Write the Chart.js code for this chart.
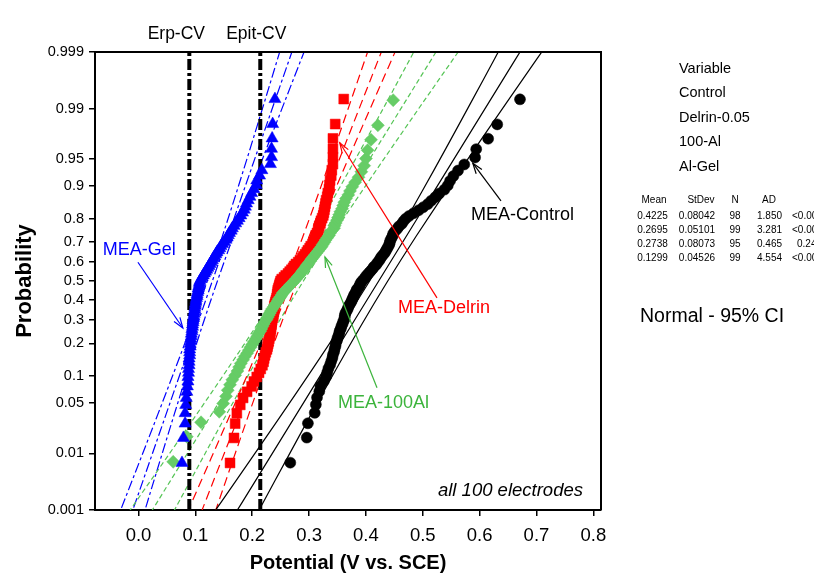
<!DOCTYPE html>
<html lang="en">
<head>
<meta charset="UTF-8">
<title>Probability plot - potentials of 100 electrodes</title>
<script src="https://cdn.jsdelivr.net/npm/chart.js"></script>
<style>
  body { margin: 0; background: #fff; }
  #wrap { width: 814px; height: 576px; }
</style>
</head>
<body>
<div id="wrap"><canvas id="probPlot" width="814" height="576"></canvas></div>
<script>
// Sorted potentials (V vs. SCE), lowest first
const controlValues = [
  0.267, 0.296, 0.298, 0.310, 0.312, 0.314, 0.318, 0.320, 0.326, 0.330,
  0.332, 0.334, 0.337, 0.339, 0.341, 0.342, 0.344, 0.345, 0.3465, 0.347,
  0.349, 0.350, 0.352, 0.353, 0.354, 0.356, 0.357, 0.359, 0.360, 0.362,
  0.3625, 0.363, 0.364, 0.366, 0.368, 0.369, 0.371, 0.373, 0.375, 0.376,
  0.378, 0.379, 0.381, 0.383, 0.384, 0.387, 0.389, 0.390, 0.392, 0.395,
  0.398, 0.400, 0.403, 0.406, 0.409, 0.412, 0.414, 0.418, 0.420, 0.423,
  0.425, 0.427, 0.430, 0.433, 0.435, 0.437, 0.439, 0.441, 0.442, 0.443,
  0.445, 0.447, 0.448, 0.451, 0.455, 0.458, 0.463, 0.466, 0.470, 0.476,
  0.484, 0.493, 0.501, 0.509, 0.515, 0.522, 0.529, 0.538, 0.544, 0.548,
  0.554, 0.562, 0.573, 0.592, 0.594, 0.615, 0.631, 0.671
];
const delrinValues = [
  0.161, 0.168, 0.170, 0.173, 0.179, 0.184, 0.191, 0.199, 0.203, 0.208,
  0.212, 0.215, 0.218, 0.220, 0.221, 0.2225, 0.224, 0.226, 0.227, 0.228,
  0.229, 0.230, 0.231, 0.2315, 0.232, 0.233, 0.233, 0.234, 0.234, 0.235,
  0.236, 0.237, 0.237, 0.238, 0.238, 0.239, 0.239, 0.240, 0.241, 0.242,
  0.243, 0.244, 0.244, 0.245, 0.245, 0.246, 0.247, 0.248, 0.249, 0.250,
  0.252, 0.256, 0.259, 0.263, 0.266, 0.269, 0.272, 0.274, 0.277, 0.281,
  0.284, 0.288, 0.290, 0.293, 0.296, 0.298, 0.301, 0.303, 0.306, 0.308,
  0.310, 0.311, 0.312, 0.314, 0.316, 0.317, 0.318, 0.320, 0.321, 0.323,
  0.325, 0.326, 0.327, 0.328, 0.329, 0.330, 0.332, 0.333, 0.335, 0.336,
  0.337, 0.339, 0.340, 0.342, 0.342, 0.342, 0.342, 0.346, 0.361
];
const al100Values = [
  0.061, 0.085, 0.110, 0.142, 0.149, 0.154, 0.157, 0.161, 0.165, 0.170,
  0.174, 0.177, 0.180, 0.184, 0.187, 0.191, 0.194, 0.197, 0.200, 0.203,
  0.206, 0.209, 0.211, 0.214, 0.216, 0.218, 0.220, 0.222, 0.225, 0.227,
  0.229, 0.231, 0.233, 0.235, 0.238, 0.240, 0.243, 0.245, 0.247, 0.250,
  0.252, 0.254, 0.258, 0.261, 0.264, 0.267, 0.271, 0.274, 0.277, 0.280,
  0.283, 0.286, 0.288, 0.291, 0.294, 0.296, 0.299, 0.302, 0.304, 0.307,
  0.310, 0.313, 0.316, 0.319, 0.322, 0.324, 0.327, 0.329, 0.332, 0.335,
  0.337, 0.340, 0.344, 0.345, 0.347, 0.349, 0.351, 0.353, 0.355, 0.358,
  0.360, 0.362, 0.365, 0.369, 0.372, 0.376, 0.381, 0.387, 0.392, 0.397,
  0.400, 0.403, 0.409, 0.421, 0.448
];
const gelValues = [
  0.0765, 0.079, 0.082, 0.082, 0.083, 0.084, 0.085, 0.086, 0.087, 0.087,
  0.088, 0.088, 0.089, 0.089, 0.089, 0.090, 0.090, 0.090, 0.091, 0.091,
  0.092, 0.092, 0.093, 0.093, 0.094, 0.094, 0.095, 0.095, 0.096, 0.096,
  0.097, 0.097, 0.098, 0.098, 0.099, 0.099, 0.100, 0.100, 0.101, 0.101,
  0.102, 0.103, 0.103, 0.104, 0.105, 0.105, 0.106, 0.107, 0.107, 0.108,
  0.110, 0.112, 0.114, 0.116, 0.118, 0.120, 0.122, 0.124, 0.126, 0.128,
  0.130, 0.132, 0.134, 0.136, 0.138, 0.141, 0.143, 0.145, 0.148, 0.151,
  0.154, 0.156, 0.158, 0.160, 0.163, 0.165, 0.168, 0.171, 0.174, 0.177,
  0.180, 0.183, 0.186, 0.188, 0.190, 0.193, 0.196, 0.199, 0.203, 0.207,
  0.208, 0.213, 0.217, 0.232, 0.234, 0.234, 0.235, 0.236, 0.240
];

// Minitab summary table (same order as the Variable list)
const variableNames = ['Control', 'Delrin-0.05', '100-Al', 'Al-Gel'];
const means = [0.4225, 0.2695, 0.2738, 0.1299];
const stdevs = [0.08042, 0.05101, 0.08073, 0.04526];
const counts = [98, 99, 95, 99];
const adStats = ['1.850', '3.281', '0.465', '4.554'];
const pValues = ['<0.00', '<0.00', '0.24', '<0.00'];

// reference potentials (dash-dot verticals)
const erpCV = 0.0894;
const epitCV = 0.2142;

// axis ticks
const probTicks = [0.001, 0.01, 0.05, 0.1, 0.2, 0.3, 0.4, 0.5, 0.6, 0.7, 0.8, 0.9, 0.95, 0.99, 0.999];
const xTickValues = [0.0, 0.1, 0.2, 0.3, 0.4, 0.5, 0.6, 0.7, 0.8];

// inverse normal cdf (Acklam), used for the probability axis
function qnorm(p) {
  const a = [-39.69683028665376, 220.9460984245205, -275.9285104469687, 138.3577518672690, -30.66479806614716, 2.506628277459239];
  const b = [-54.47609879822406, 161.5858368580409, -155.6989798598866, 66.80131188771972, -13.28068155288572];
  const c = [-0.007784894002430293, -0.3223964580411365, -2.400758277161838, -2.549732539343734, 4.374664141464968, 2.938163982698783];
  const d = [0.007784695709041462, 0.3224671290700398, 2.445134137142996, 3.754408661907416];
  const lo = 0.02425;
  let q, r;
  if (p < lo) {
    q = Math.sqrt(-2 * Math.log(p));
    return (((((c[0]*q+c[1])*q+c[2])*q+c[3])*q+c[4])*q+c[5]) / ((((d[0]*q+d[1])*q+d[2])*q+d[3])*q+1);
  }
  if (p > 1 - lo) {
    q = Math.sqrt(-2 * Math.log(1 - p));
    return -(((((c[0]*q+c[1])*q+c[2])*q+c[3])*q+c[4])*q+c[5]) / ((((d[0]*q+d[1])*q+d[2])*q+d[3])*q+1);
  }
  q = p - 0.5; r = q * q;
  return (((((a[0]*r+a[1])*r+a[2])*r+a[3])*r+a[4])*r+a[5])*q / (((((b[0]*r+b[1])*r+b[2])*r+b[3])*r+b[4])*r+1);
}

// median-rank plotting positions, like Minitab
function toPoints(values) {
  const n = values.length;
  return values.map((v, i) => ({ x: v, y: qnorm((i + 1 - 0.3) / (n + 0.4)) }));
}

// fitted normal line and 95% CI from mean / stdev / N
const zGrid = [];
for (let z = -3.3; z <= 3.31; z += 0.3) zGrid.push(z);
function fitLine(m, s, n, side) {
  return zGrid.map(z => ({ x: m + s * z + side * 1.96 * s * Math.sqrt((1 + z * z / 2) / n), y: z }));
}

const FONT = "'Liberation Sans', Arial, sans-serif";
Chart.defaults.font.family = FONT;
Chart.defaults.color = '#000';

const groups = [
  { values: controlValues, k: 0, color: '#000000', line: '#000000', dash: [], style: 'circle', radius: 5.5, order: 4 },
  { values: delrinValues, k: 1, color: '#ff0000', line: '#ff0000', dash: [9, 5], style: 'rect', radius: 7, order: 3 },
  { values: al100Values, k: 2, color: '#66cc66', line: '#55c455', dash: [5, 3], style: 'rectRot', radius: 6.5, order: 2 },
  { values: gelValues, k: 3, color: '#0000ff', line: '#0000ff', dash: [10, 3, 3, 3], style: 'triangle', radius: 7, order: 1 }
];

const datasets = [];
groups.forEach(g => {
  [-1, 0, 1].forEach(side => {
    datasets.push({
      data: fitLine(means[g.k], stdevs[g.k], counts[g.k], side),
      showLine: true, pointRadius: 0, borderColor: g.line, borderWidth: 1.2,
      borderDash: g.dash, order: 20
    });
  });
  datasets.push({
    data: toPoints(g.values),
    pointStyle: g.style, pointRadius: g.radius,
    backgroundColor: g.color, borderColor: g.color, borderWidth: 0.5,
    order: g.order
  });
});
[erpCV, epitCV].forEach(v => {
  datasets.push({
    data: [{ x: v, y: qnorm(0.001) }, { x: v, y: qnorm(0.999) }],
    showLine: true, pointRadius: 0, borderColor: '#000', borderWidth: 4,
    borderDash: [11, 3, 3, 3], order: 10
  });
});

function arrow(ctx, x1, y1, x2, y2, color) {
  ctx.strokeStyle = color;
  ctx.lineWidth = 1.2;
  ctx.setLineDash([]);
  ctx.beginPath(); ctx.moveTo(x1, y1); ctx.lineTo(x2, y2); ctx.stroke();
  const ang = Math.atan2(y2 - y1, x2 - x1), L = 11, w = 0.33;
  ctx.beginPath();
  ctx.moveTo(x2 - L * Math.cos(ang - w), y2 - L * Math.sin(ang - w));
  ctx.lineTo(x2, y2);
  ctx.lineTo(x2 - L * Math.cos(ang + w), y2 - L * Math.sin(ang + w));
  ctx.stroke();
}

const overlay = {
  id: 'overlay',
  afterDraw(chart) {
    const { ctx, chartArea: a, scales: { x, y } } = chart;
    const px = v => x.getPixelForValue(v);
    const py = p => y.getPixelForValue(qnorm(p));
    ctx.save();
    // top and right of the frame
    ctx.strokeStyle = '#000'; ctx.lineWidth = 2;
    ctx.beginPath();
    ctx.moveTo(a.left, a.top); ctx.lineTo(a.right, a.top); ctx.lineTo(a.right, a.bottom);
    ctx.stroke();

    ctx.textBaseline = 'middle';
    ctx.textAlign = 'center';
    ctx.fillStyle = '#000';
    ctx.font = '17.5px ' + FONT;
    ctx.fillText('Erp-CV', px(erpCV) - 13, a.top - 18);
    ctx.fillText('Epit-CV', px(epitCV) - 4, a.top - 18);

    // series call-outs
    ctx.textAlign = 'left';
    ctx.font = '18px ' + FONT;
    ctx.fillStyle = '#0000ff';
    ctx.fillText('MEA-Gel', px(-0.063), py(0.66));
    arrow(ctx, px(-0.001), py(0.60), px(0.078), py(0.263), '#0000ff');
    ctx.fillStyle = '#000';
    ctx.fillText('MEA-Control', px(0.585), py(0.813));
    arrow(ctx, px(0.6376), py(0.86), px(0.588), py(0.944), '#000');
    ctx.fillStyle = '#ff0000';
    ctx.fillText('MEA-Delrin', px(0.4565), py(0.358));
    arrow(ctx, px(0.525), py(0.41), px(0.354), py(0.969), '#ff0000');
    ctx.fillStyle = '#3cb43c';
    ctx.fillText('MEA-100Al', px(0.351), py(0.05));
    arrow(ctx, px(0.4195), py(0.075), px(0.328), py(0.627), '#3cb43c');

    ctx.fillStyle = '#000';
    ctx.textAlign = 'right';
    ctx.font = 'italic 18.5px ' + FONT;
    ctx.fillText('all 100 electrodes', px(0.7818), py(0.0023));

    // legend panel
    ctx.textAlign = 'left';
    ctx.font = '14.5px ' + FONT;
    ctx.fillText('Variable', 679, 69);
    variableNames.forEach((nm, i) => ctx.fillText(nm, 679, 93 + i * 24.6));

    ctx.font = '10px ' + FONT;
    ctx.textAlign = 'center';
    ctx.fillText('Mean', 654, 200);
    ctx.fillText('StDev', 701, 200);
    ctx.fillText('N', 735, 200);
    ctx.fillText('AD', 769, 200);
    means.forEach((m, i) => {
      const ry = 216.7 + i * 13.7;
      ctx.textAlign = 'center';
      ctx.fillText(m.toFixed(4), 652.5, ry);
      ctx.textAlign = 'right';
      ctx.fillText(stdevs[i].toFixed(5), 715, ry);
      ctx.textAlign = 'center';
      ctx.fillText(String(counts[i]), 735, ry);
      ctx.fillText(adStats[i], 769.5, ry);
      ctx.textAlign = 'left';
      ctx.fillText(pValues[i], pValues[i].startsWith('<') ? 792 : 797, ry);
    });
    ctx.textAlign = 'left';
    ctx.font = '19.5px ' + FONT;
    ctx.fillText('Normal - 95% CI', 640, 317);
    ctx.restore();
  }
};

new Chart(document.getElementById('probPlot'), {
  type: 'scatter',
  data: { datasets },
  plugins: [overlay],
  options: {
    responsive: false,
    animation: false,
    layout: { padding: { left: 0, top: 52, right: 213, bottom: 0 } },
    plugins: { legend: { display: false }, tooltip: { enabled: false } },
    elements: { line: { tension: 0 } },
    scales: {
      x: {
        type: 'linear', min: -0.0765, max: 0.8135,
        afterBuildTicks: s => { s.ticks = xTickValues.map(v => ({ value: v })); },
        afterFit: s => { s.height = 66; },
        grid: { display: true, drawOnChartArea: false, drawTicks: true, tickLength: 6, color: '#000', lineWidth: 1.5 },
        border: { display: true, color: '#000', width: 2 },
        ticks: { font: { size: 18.5 }, color: '#000', padding: 9, autoSkip: false, maxRotation: 0,
                 callback: v => v.toFixed(1) },
        title: { display: true, text: 'Potential (V vs. SCE)', color: '#000',
                 font: { size: 20, weight: 'bold' }, padding: { top: 0, bottom: 1 } }
      },
      y: {
        type: 'linear', min: qnorm(0.001), max: qnorm(0.999),
        afterBuildTicks: s => { s.ticks = probTicks.map(p => ({ value: qnorm(p) })); },
        afterFit: s => { s.width = 95; },
        grid: { display: true, drawOnChartArea: false, drawTicks: true, tickLength: 6, color: '#000', lineWidth: 1.5 },
        border: { display: true, color: '#000', width: 2 },
        ticks: { font: { size: 14.5 }, color: '#000', padding: 5, autoSkip: false,
                 callback: (v, i) => String(probTicks[i]) },
        title: { display: true, text: 'Probability', color: '#000',
                 font: { size: 22, weight: 'bold' }, padding: { top: 12, bottom: 0 } }
      }
    }
  }
});
</script>
</body>
</html>
